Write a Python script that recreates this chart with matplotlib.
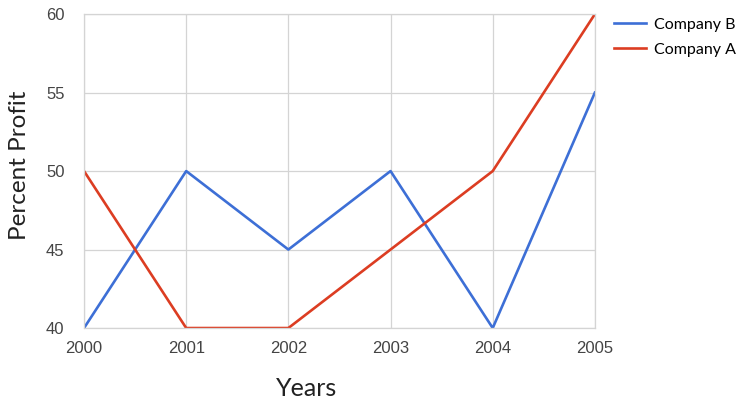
import matplotlib
matplotlib.use('Agg')
from matplotlib import pyplot as plt

years = [2000, 2001, 2002, 2003, 2004, 2005]
companyB = [40, 50, 45, 50, 40, 55]
companyA = [50, 40, 40, 45, 50, 60]
yTicks = [40, 45, 50, 55, 60]

blue = '#3d6fd6'
red = '#dc3d22'

fig = plt.figure(figsize=(7.39, 4.03), dpi=100)
ax = fig.add_axes([0.1137, 0.186, 0.6913, 0.779])

ax.plot(years, companyB, color=blue, lw=1.9, label='Company B')
ax.plot(years, companyA, color=red, lw=1.9, label='Company A')

ax.set_xlim(years[0], years[-1])
ax.set_ylim(yTicks[0], yTicks[-1])
ax.set_xticks(years)
ax.set_yticks(yTicks)
ax.grid(True, color='#d4d4d4', lw=0.9)
ax.set_axisbelow(True)
for s in ax.spines.values():
    s.set_color('#d4d4d4')
    s.set_linewidth(0.9)

#tick labels, no tick marks
ax.tick_params(axis='both', length=0, labelsize=12, labelcolor='#444444')
ax.tick_params(axis='x', pad=9)
ax.tick_params(axis='y', pad=14)
for lab in ax.get_xticklabels() + ax.get_yticklabels():
    lab.set_family('Liberation Sans')

#axis titles placed in figure coords (the x title sits left of centre in the original)
fig.text(0.4154, 0.037, 'Years', fontsize=18, family='Lato', color='#222222',
         ha='center', va='center')
fig.text(0.026, 0.59, 'Percent Profit', fontsize=17.5, family='Lato', color='#222222',
         ha='center', va='center', rotation=90)

leg = ax.legend(loc='upper left', bbox_to_anchor=(1.01, 1.035), frameon=False,
                handlelength=2.0, handletextpad=0.5, labelspacing=0.7,
                prop={'family': 'Lato', 'size': 11.5})

fig.savefig('out.png', dpi=100)
